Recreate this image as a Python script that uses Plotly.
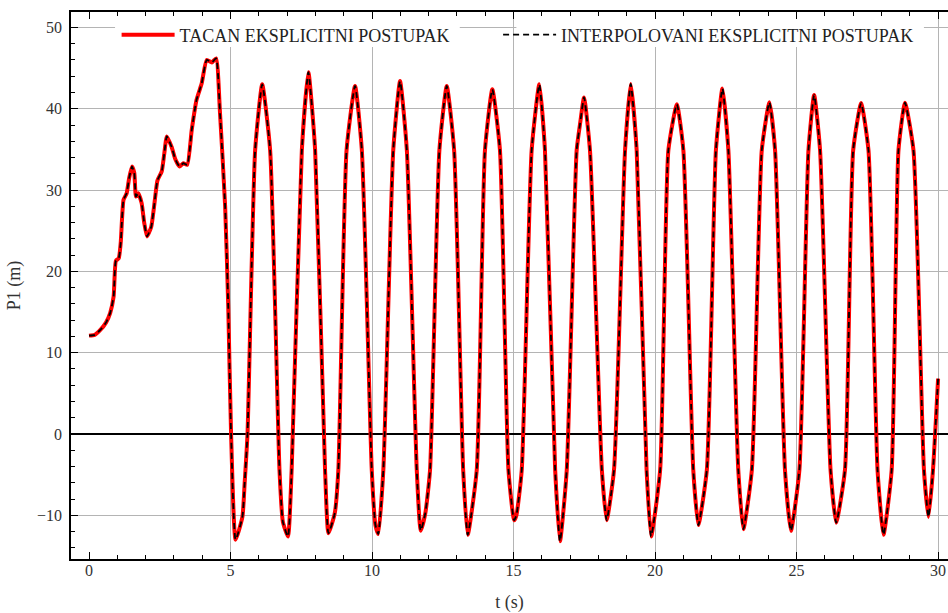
import plotly.graph_objects as go

# ---- data ----
t_s = [0, 0.2, 0.4, 0.6, 0.75, 0.87, 0.95, 1.05, 1.12, 1.22,
       1.33, 1.42, 1.52, 1.6, 1.66, 1.74, 1.86, 1.95, 2.05, 2.2,
       2.3, 2.42, 2.57, 2.66, 2.75, 2.92, 3.05, 3.2, 3.33, 3.47,
       3.63, 3.8, 3.98, 4.16, 4.34, 4.49, 4.63, 4.81, 4.92, 5.02, 5.18,
       5.42, 5.5, 5.6, 5.87, 6.12, 6.40,
       6.73, 6.85, 7.03, 7.16, 7.52, 7.75, 7.99,
       8.34, 8.46, 8.68, 8.81, 9.10, 9.40, 9.64,
       9.99, 10.12, 10.22, 10.40, 10.75, 10.99, 11.23,
       11.58, 11.72, 11.88, 12.05, 12.38, 12.64, 12.90,
       13.22, 13.38, 13.70, 13.99, 14.25, 14.52,
       14.82, 15.02, 15.10, 15.29, 15.64, 15.91, 16.11,
       16.47, 16.64, 16.88, 17.23, 17.36, 17.49, 17.70,
       18.12, 18.29, 18.55, 18.94, 19.14, 19.35,
       19.70, 19.86, 20.18, 20.47, 20.77, 21.00,
       21.35, 21.53, 21.83, 22.15, 22.38, 22.59,
       22.94, 23.12, 23.42, 23.77, 24.04, 24.24,
       24.59, 24.80, 25.10, 25.42, 25.62, 25.83,
       26.20, 26.40, 26.71, 27.00, 27.28, 27.54,
       27.86, 28.07, 28.36, 28.60, 28.83, 29.13,
       29.50, 29.66, 29.82, 30.0]

p1_m = [12.1, 12.2, 12.8, 13.7, 14.9, 16.9, 21.3, 21.6, 23.5, 28.8,
        29.6, 31.5, 32.9, 32.1, 29.2, 29.6, 28.4, 26.0, 24.3, 25.5,
        28.0, 31.2, 32.3, 34.5, 36.6, 35.3, 33.8, 32.9, 33.3, 33.1,
        37.4, 41.1, 43.1, 46.0, 45.7, 46.2, 39.4, 28.0, 15.7, 0.0, -13.0,
        -10.2, -6.0, 0.0, 34.9, 43.0, 34.9,
        -4.4, -10.8, -12.6, -4.4, 34.9, 44.5, 34.9,
        -4.4, -12.2, -9.8, -4.4, 34.9, 42.8, 34.9,
        -4.4, -11.2, -12.3, -4.4, 34.9, 43.4, 34.9,
        -4.4, -11.9, -9.8, -4.4, 34.9, 42.8, 34.9,
        -4.4, -12.4, -4.4, 34.9, 42.4, 34.9,
        -4.4, -10.6, -10.0, -4.4, 34.9, 43.0, 34.9,
        -4.4, -13.2, -4.4, 34.9, 38.4, 41.4, 34.9,
        -4.4, -10.6, -4.4, 34.9, 43.05, 34.9,
        -4.4, -12.6, -4.4, 34.9, 40.55, 34.9,
        -4.4, -11.2, -4.4, 34.9, 42.5, 34.9,
        -4.4, -11.7, -4.4, 34.9, 40.8, 34.9,
        -4.4, -11.9, -4.4, 34.9, 41.7, 34.9,
        -4.4, -10.9, -4.4, 34.9, 40.7, 34.9,
        -4.4, -12.4, -4.4, 34.9, 40.75, 34.9,
        -4.4, -10.2, -4.4, 6.8]

series_names = ["TACAN EKSPLICITNI POSTUPAK", "INTERPOLOVANI EKSPLICITNI POSTUPAK"]
x_major = [0, 5, 10, 15, 20, 25, 30]
x_grid = [5, 10, 15, 20, 25, 30]
y_major = [-10, 0, 10, 20, 30, 40, 50]

# ---- styling ----
FONT = "Liberation Serif"
GRID = "#b4b4b4"
X_RANGE = [-0.636, 30.35]
Y_RANGE = [-15.37, 51.9]

fig = go.Figure()
fig.add_trace(go.Scatter(
    x=t_s, y=p1_m, mode="lines", name=series_names[0],
    line=dict(color="#ff0000", width=4, shape="spline", smoothing=0.5),
    xaxis="x", yaxis="y", legend="legend"))
fig.add_trace(go.Scatter(
    x=t_s, y=p1_m, mode="lines", name=series_names[1],
    line=dict(color="black", width=1.8, dash="6px,4px", shape="spline", smoothing=0.5),
    xaxis="x2", yaxis="y", legend="legend2"))

# white boxes behind the legend entries (between grid and traces)
fig.add_shape(type="rect", xref="x", yref="y", x0=0.92, x1=13.1, y0=47.6, y1=52,
              fillcolor="white", line=dict(width=0), layer="between")
fig.add_shape(type="rect", xref="x", yref="y", x0=15.1, x1=29.5, y0=47.6, y1=52,
              fillcolor="white", line=dict(width=0), layer="between")

tickfont = dict(family=FONT, size=16, color="#333333")
titlefont = dict(family=FONT, size=18, color="#333333")
legfont = dict(family=FONT, size=18, color="#222222")

fig.update_layout(
    width=948, height=613,
    margin=dict(l=71, r=0, t=12, b=54),
    paper_bgcolor="white", plot_bgcolor="white",
    showlegend=True,
    legend=dict(orientation="h", x=0.052, xanchor="left", y=0.958, yanchor="middle",
                bgcolor="rgba(0,0,0,0)", font=legfont, itemwidth=53),
    legend2=dict(orientation="h", x=0.487, xanchor="left", y=0.958, yanchor="middle",
                 bgcolor="rgba(0,0,0,0)", font=legfont, itemwidth=53),
    xaxis=dict(range=X_RANGE, showgrid=False, zeroline=False,
               tickvals=x_major, ticks="inside", ticklen=7, tickwidth=1.2, tickcolor="black",
               showline=True, linecolor="black", linewidth=1.5, mirror="ticks",
               minor=dict(dtick=1, tick0=0, ticks="inside", ticklen=4, tickwidth=1.2,
                          tickcolor="black", showgrid=False),
               tickfont=tickfont, ticklabelstandoff=-4,
               title=dict(text="t (s)", font=titlefont, standoff=19),
               automargin=False),
    xaxis2=dict(range=X_RANGE, overlaying="x", matches="x", showgrid=True, gridcolor=GRID,
                gridwidth=1.3, tickvals=x_grid, showticklabels=False, ticks="",
                showline=False, zeroline=False),
    yaxis=dict(range=Y_RANGE, tickvals=y_major, showgrid=True, gridcolor=GRID, gridwidth=1.3,
               zeroline=True, zerolinecolor="black", zerolinewidth=1.6,
               ticks="inside", ticklen=7, tickwidth=1.2, tickcolor="black",
               showline=True, linecolor="black", linewidth=1.5, mirror=False,
               minor=dict(dtick=2, tick0=0, ticks="inside", ticklen=4, tickwidth=1.2,
                          tickcolor="black", showgrid=False),
               tickfont=tickfont, ticklabelstandoff=4,
               title=dict(text="P1 (m)", font=titlefont, standoff=12),
               automargin=False),
)

fig.write_html("out.html")
